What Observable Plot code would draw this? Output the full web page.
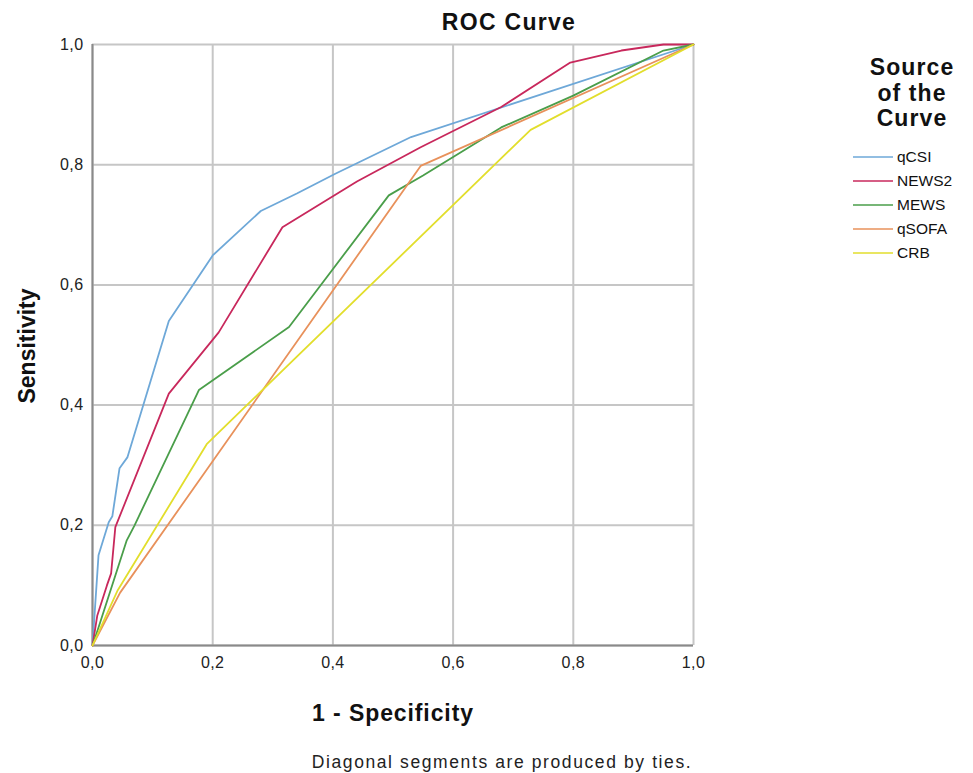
<!DOCTYPE html>
<html>
<head>
<meta charset="utf-8">
<script src="https://cdn.jsdelivr.net/npm/d3@7"></script>
<script src="https://cdn.jsdelivr.net/npm/@observablehq/plot@0.6"></script>
<style>
  html, body { margin: 0; padding: 0; background: #fff; }
  #wrap { position: relative; width: 973px; height: 773px; font-family: "Liberation Sans", Arial, sans-serif; color: #111; overflow: hidden; }
  #chart { position: absolute; left: 0; top: 0; }
  .abs { position: absolute; white-space: nowrap; }
  #title { left: 359px; width: 300px; top: 11px; text-align: center; font-weight: bold; font-size: 23px; line-height: 23px; letter-spacing: 1.3px; }
  #xlab { left: 243px; width: 300px; top: 700px; text-align: center; font-weight: bold; font-size: 23px; line-height: 26px; letter-spacing: 0.9px; }
  #ylab { left: -73px; width: 200px; top: 333px; text-align: center; font-weight: bold; font-size: 23px; line-height: 26px; transform: rotate(-90deg); }
  #caption { left: 252px; width: 500px; top: 752px; text-align: center; font-size: 17.5px; line-height: 20px; color: #222; letter-spacing: 1.6px; }
  #legtitle { left: 842px; width: 140px; top: 55px; text-align: center; font-weight: bold; font-size: 23px; line-height: 25.5px; letter-spacing: 1.1px; white-space: normal; }
  #legend { position: absolute; left: 850px; top: 145px; }
</style>
</head>
<body>
<div id="wrap">
  <div id="chart"></div>
  <div id="title" class="abs">ROC Curve</div>
  <div id="xlab" class="abs">1 - Specificity</div>
  <div id="ylab" class="abs">Sensitivity</div>
  <div id="caption" class="abs">Diagonal segments are produced by ties.</div>
  <div id="legtitle" class="abs">Source<br>of the<br>Curve</div>
  <svg id="legend" width="123" height="130"></svg>
</div>
<script>
// ---- data ----
const seriesNames = ["qCSI", "NEWS2", "MEWS", "qSOFA", "CRB"];
const seriesColors = ["#6ea8d8", "#c8285c", "#4a9e4a", "#e8915b", "#e2de2c"];
const axisTicks = [0, 0.2, 0.4, 0.6, 0.8, 1.0];

const qCSI_fpr  = [0, 0.010, 0.027, 0.033, 0.045, 0.058, 0.127, 0.200, 0.280, 0.340, 0.404, 0.530, 1];
const qCSI_tpr  = [0, 0.150, 0.205, 0.215, 0.295, 0.313, 0.540, 0.649, 0.723, 0.752, 0.785, 0.846, 1];

const NEWS2_fpr = [0, 0.008, 0.024, 0.031, 0.038, 0.127, 0.210, 0.316, 0.440, 0.546, 0.680, 0.795, 0.880, 0.950, 1];
const NEWS2_tpr = [0, 0.050, 0.100, 0.120, 0.197, 0.419, 0.521, 0.696, 0.772, 0.829, 0.896, 0.970, 0.990, 1.000, 1];

const MEWS_fpr  = [0, 0.010, 0.057, 0.070, 0.177, 0.327, 0.493, 0.550, 0.680, 0.800, 0.950, 1];
const MEWS_tpr  = [0, 0.030, 0.175, 0.200, 0.425, 0.530, 0.749, 0.782, 0.862, 0.915, 0.990, 1];

const qSOFA_fpr = [0, 0.046, 0.546, 1];
const qSOFA_tpr = [0, 0.088, 0.798, 1];

const CRB_fpr   = [0, 0.042, 0.190, 0.729, 1];
const CRB_tpr   = [0, 0.092, 0.335, 0.858, 1];

const fprs = [qCSI_fpr, NEWS2_fpr, MEWS_fpr, qSOFA_fpr, CRB_fpr];
const tprs = [qCSI_tpr, NEWS2_tpr, MEWS_tpr, qSOFA_tpr, CRB_tpr];

const data = seriesNames.flatMap((name, k) =>
  fprs[k].map((x, i) => ({series: name, x, y: tprs[k][i]})));

const fmt = d => d.toFixed(1).replace(".", ",");
const gridStyle = {stroke: "#c6c6c6", strokeOpacity: 1, strokeWidth: 2};

const chart = Plot.plot({
  width: 973,
  height: 690,
  marginLeft: 92,
  marginRight: 280,
  marginTop: 44,
  marginBottom: 45,
  style: {fontFamily: "'Liberation Sans', Arial, sans-serif", fontSize: "16px", color: "#222", background: "transparent", overflow: "visible", letterSpacing: "0.4px"},
  x: {domain: [0, 1]},
  y: {domain: [0, 1]},
  color: {domain: seriesNames, range: seriesColors},
  marks: [
    Plot.gridX(axisTicks, gridStyle),
    Plot.gridY(axisTicks, gridStyle),
    Plot.ruleX([0], {stroke: "#8a8a8a", strokeWidth: 2}),
    Plot.ruleY([0], {stroke: "#8a8a8a", strokeWidth: 2}),
    Plot.line(data, {x: "x", y: "y", z: "series", stroke: "series", strokeWidth: 1.8}),
    Plot.axisX(axisTicks, {tickSize: 0, tickPadding: 11, tickFormat: fmt, label: null, fill: "#222", fontSize: 16}),
    Plot.axisY(axisTicks, {tickSize: 0, tickPadding: 9, tickFormat: fmt, label: null, fill: "#222", fontSize: 16})
  ]
});
document.getElementById("chart").appendChild(chart);

// legend
const leg = d3.select("#legend");
seriesNames.forEach((name, i) => {
  const y = 12 + i * 24;
  leg.append("line").attr("x1", 3).attr("x2", 43).attr("y1", y).attr("y2", y)
    .attr("stroke", seriesColors[i]).attr("stroke-width", 2).attr("stroke-opacity", 0.75);
  leg.append("text").attr("x", 47).attr("y", y).attr("dy", "0.35em")
    .attr("font-family", "'Liberation Sans', Arial, sans-serif").attr("font-size", 15.5)
    .attr("fill", "#111").text(name);
});
</script>
</body>
</html>
